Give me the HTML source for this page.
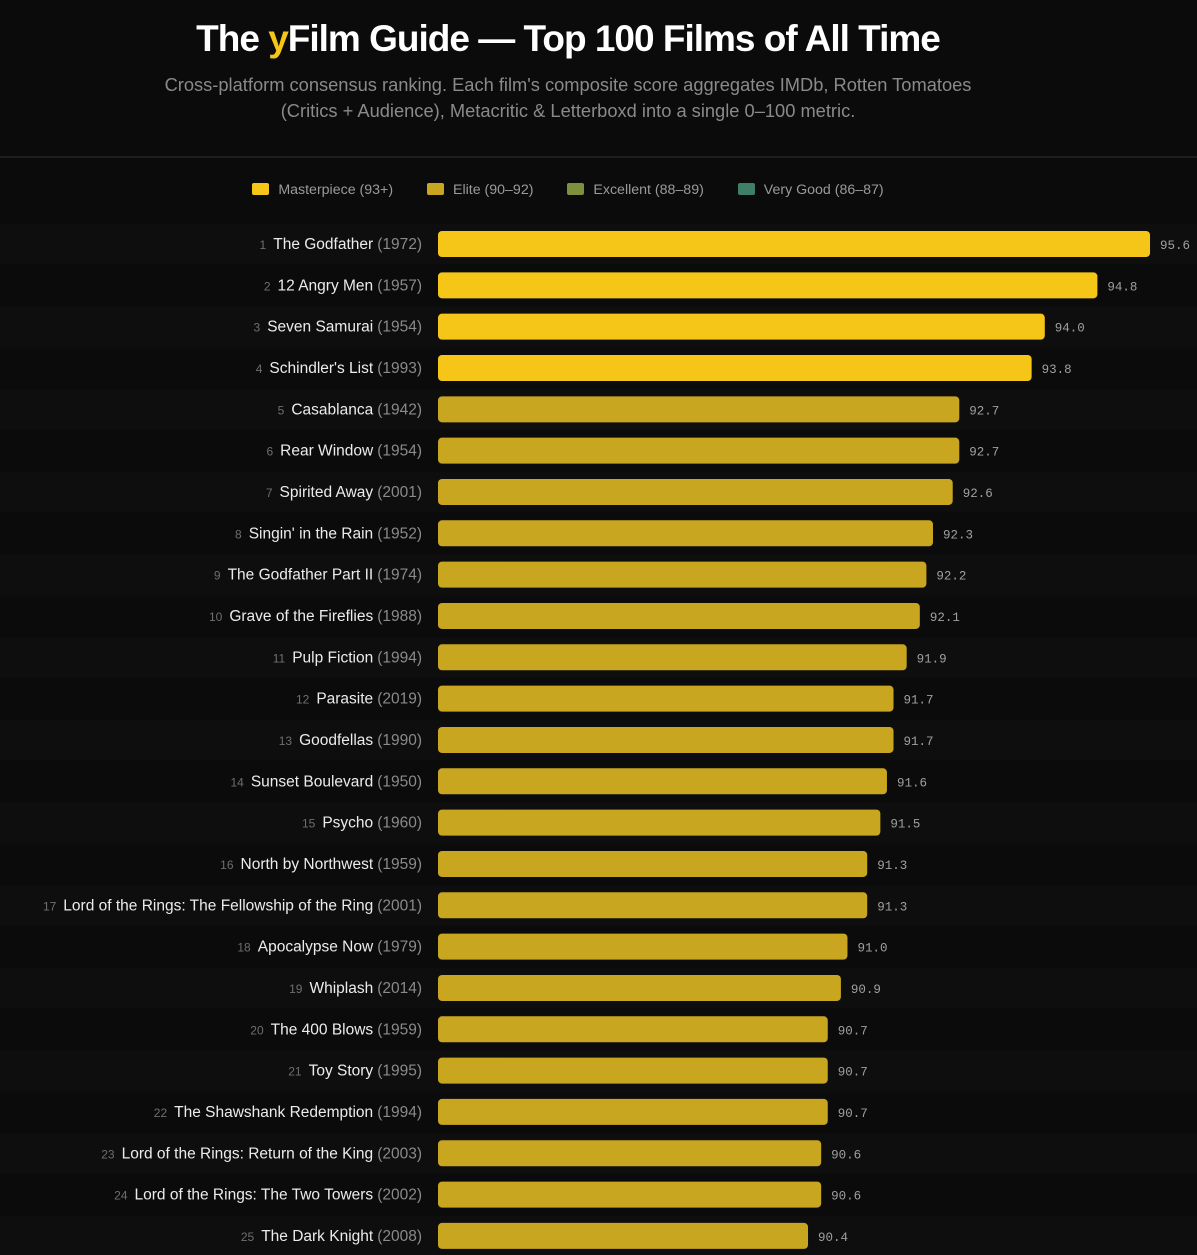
<!DOCTYPE html>
<html><head><meta charset="utf-8">
<style>
html,body{margin:0;padding:0;background:#0b0b0b;}
body{width:1197px;height:1255px;overflow:hidden;position:relative;font-family:"Liberation Sans","DejaVu Sans",sans-serif;}
#title{position:absolute;left:0;width:1136px;top:18px;text-align:center;color:#fff;font-size:37px;font-weight:bold;letter-spacing:-1px;}
#title span{color:#f5c518;}
#sub{position:absolute;left:0;width:1136px;top:72px;text-align:center;color:#8a8a8a;font-size:18.3px;line-height:26px;}
#divider{position:absolute;left:0;top:156px;width:1197px;height:2px;background:#1e1e1e;}
#legend{position:absolute;left:0;width:1136px;top:182px;text-align:center;font-size:14.2px;color:#9a9a9a;}
.lg{display:inline-block;margin:0 15px;}
.sw{display:inline-block;width:17px;height:12px;border-radius:2px;vertical-align:-1px;margin-right:9px;}
</style></head>
<body>
<div id="title">The <span>y</span>Film Guide — Top 100 Films of All Time</div>
<div id="sub">Cross-platform consensus ranking. Each film's composite score aggregates IMDb, Rotten Tomatoes<br>(Critics + Audience), Metacritic &amp; Letterboxd into a single 0–100 metric.</div>
<div id="divider"></div>
<div id="legend">
<span class="lg"><span class="sw" style="background:#f5c518"></span>Masterpiece (93+)</span>
<span class="lg"><span class="sw" style="background:#c9a620"></span>Elite (90–92)</span>
<span class="lg"><span class="sw" style="background:#7e8f3e"></span>Excellent (88–89)</span>
<span class="lg"><span class="sw" style="background:#3f7f68"></span>Very Good (86–87)</span>
</div>
<svg id="chart" width="1197" height="1255" style="position:absolute;left:0;top:0"></svg>
<script>
const titles=["The Godfather","12 Angry Men","Seven Samurai","Schindler's List","Casablanca","Rear Window","Spirited Away","Singin' in the Rain","The Godfather Part II","Grave of the Fireflies","Pulp Fiction","Parasite","Goodfellas","Sunset Boulevard","Psycho","North by Northwest","Lord of the Rings: The Fellowship of the Ring","Apocalypse Now","Whiplash","The 400 Blows","Toy Story","The Shawshank Redemption","Lord of the Rings: Return of the King","Lord of the Rings: The Two Towers","The Dark Knight"];
const years=[1972,1957,1954,1993,1942,1954,2001,1952,1974,1988,1994,2019,1990,1950,1960,1959,2001,1979,2014,1959,1995,1994,2003,2002,2008];
const scores=[95.6,94.8,94.0,93.8,92.7,92.7,92.6,92.3,92.2,92.1,91.9,91.7,91.7,91.6,91.5,91.3,91.3,91.0,90.9,90.7,90.7,90.7,90.6,90.6,90.4];

const NS="http://www.w3.org/2000/svg";
const svg=document.getElementById('chart');
const x0=438, base=84.774, pxPer=65.77;
function xScale(v){return x0+(v-base)*pxPer;}
function yScale(i){return 244+i*41.33;}
function color(v){return v>=93?'#f5c518':v>=90?'#c9a620':v>=88?'#7e8f3e':'#3f7f68';}
function mk(tag,attrs){const e=document.createElementNS(NS,tag);for(const k in attrs)e.setAttribute(k,attrs[k]);return e;}
scores.forEach((v,i)=>{
  const y=yScale(i);
  const g=mk('g',{});
  
  
  const bg=mk('rect',{x:0,y:y-20.5,width:1197,height:41.33,fill:i%2?'#0b0b0b':'#0e0e0e'});
  
  
  g.appendChild(bg);
  const t=mk('text',{x:422,y:y+5,'text-anchor':'end','font-size':15.5,fill:'#ececec','font-family':'Liberation Sans, sans-serif'});
  
  
  const r=mk('tspan',{fill:'#6f6f6f','font-size':12});r.textContent=String(i+1);
  const n=mk('tspan',{dx:7});n.textContent=titles[i];
  const yr=mk('tspan',{fill:'#8a8a8a',dx:4});yr.textContent='('+years[i]+')';
  t.appendChild(r);t.appendChild(n);t.appendChild(yr);
  g.appendChild(t);
  const xe=xScale(v);
  const b=mk('rect',{x:x0,y:y-13,width:xe-x0,height:26,rx:4,fill:color(v)});
  
  
  g.appendChild(b);
  const vt=mk('text',{x:xe+10,y:y+5,'font-size':12.5,fill:'#a0a0a0','font-family':'Liberation Mono, monospace'});
  
  
  vt.textContent=v.toFixed(1);
  g.appendChild(vt);
  svg.appendChild(g);
});
</script>
</body></html>
